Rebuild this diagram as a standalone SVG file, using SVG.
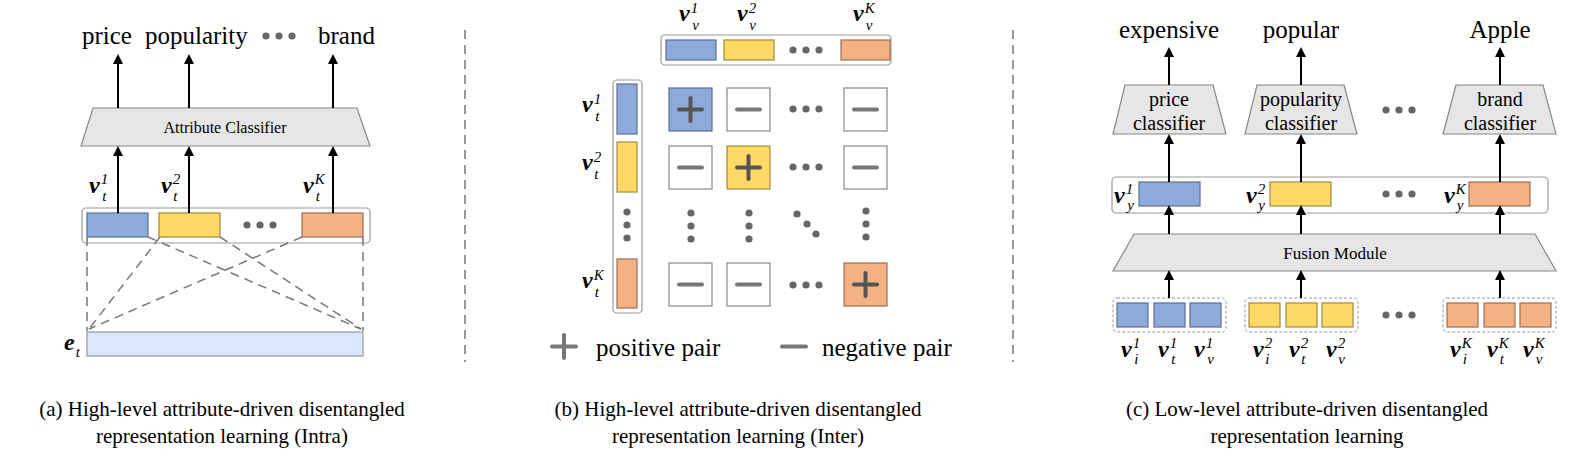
<svg xmlns="http://www.w3.org/2000/svg" width="1578" height="472" viewBox="0 0 1578 472" font-family="Liberation Serif, DejaVu Serif, serif">
<style>
text{font-family:"Liberation Serif","DejaVu Serif",serif;fill:#000}
.lab{font-size:25px}
.cap{font-size:21px;text-anchor:middle}
.m{font-size:24px;font-weight:bold;font-style:italic}
.s{font-size:15px;font-weight:normal;font-style:italic}
.b{fill:#8eaadb;stroke:#5a6f96;stroke-width:1.2}
.y{fill:#ffd966;stroke:#a08a3c;stroke-width:1.2}
.o{fill:#f4b183;stroke:#9c6e54;stroke-width:1.2}
.w{fill:#fff;stroke:#888;stroke-width:1.2}
.cont{fill:#fff;stroke:#999;stroke-width:1.2}
.trap{fill:#e6e6e6;stroke:#888;stroke-width:1.2}
.ar{stroke:#000;stroke-width:2;marker-end:url(#ah);fill:none}
.dash{stroke:#777;stroke-width:1.5;stroke-dasharray:9 6;fill:none}
.dot{fill:#666}
.pm{stroke:#555;stroke-width:4;stroke-linecap:round}
.pml{stroke:#777;stroke-width:4;stroke-linecap:round}
</style>
<defs>
<marker id="ah" markerWidth="10" markerHeight="10" refX="8" refY="5" orient="auto" markerUnits="userSpaceOnUse"><path d="M0,0 L10,5 L0,10 z" fill="#000"/></marker>
<g id="d3"><circle cx="-13" cy="0" r="3.6" class="dot"/><circle cx="0" cy="0" r="3.6" class="dot"/><circle cx="13" cy="0" r="3.6" class="dot"/></g>
<g id="v3"><circle cy="-13" cx="0" r="3.6" class="dot"/><circle cy="0" cx="0" r="3.6" class="dot"/><circle cy="13" cx="0" r="3.6" class="dot"/></g>
</defs>
<rect width="1578" height="472" fill="#fff"/>

<line x1="465" y1="30" x2="465" y2="362" class="dash"/>
<line x1="1013" y1="30" x2="1013" y2="362" class="dash"/>

<g id="a-labels">
<text class="lab" x="82" y="44">price</text>
<text class="lab" x="145" y="44">popularity</text>
<use href="#d3" x="279" y="36"/>
<text class="lab" x="318" y="44">brand</text>
</g>
<g id="a-classifier">
<polygon points="93,108 357,108 370,146 81,146" class="trap"/>
<text x="225" y="133" font-size="16" text-anchor="middle">Attribute Classifier</text>
</g>
<g id="a-vectors">
<rect x="82" y="208" width="288" height="35" rx="4" class="cont"/>
<rect x="87" y="213" width="61" height="24" class="b"/>
<rect x="159" y="213" width="61" height="24" class="y"/>
<use href="#d3" x="260" y="225"/>
<rect x="302" y="213" width="61" height="24" class="o"/>
<text class="m" x="89" y="193">v<tspan class="s" dx="1" dy="-9">1</tspan><tspan class="s" dx="-6" dy="17">t</tspan></text>
<text class="m" x="161" y="193">v<tspan class="s" dx="1" dy="-9">2</tspan><tspan class="s" dx="-7" dy="17">t</tspan></text>
<text class="m" x="303" y="193">v<tspan class="s" dx="1" dy="-9">K</tspan><tspan class="s" dx="-9" dy="17">t</tspan></text>
</g>
<g id="a-et">
<rect x="87" y="332" width="276" height="24" fill="#dae8fc" stroke="#999" stroke-width="1.2"/>
<text class="m" x="64" y="350">e<tspan class="s" dx="1" dy="7">t</tspan></text>
</g>
<g id="a-connectors">
<line x1="118" y1="108" x2="118" y2="56" class="ar"/>
<line x1="189" y1="108" x2="189" y2="56" class="ar"/>
<line x1="333" y1="108" x2="333" y2="56" class="ar"/>
<line x1="118" y1="213" x2="118" y2="148" class="ar"/>
<line x1="189" y1="213" x2="189" y2="148" class="ar"/>
<line x1="333" y1="213" x2="333" y2="148" class="ar"/>
<line x1="87" y1="237" x2="87" y2="331" class="dash"/>
<line x1="363" y1="237" x2="363" y2="331" class="dash"/>
<line x1="148" y1="237" x2="361" y2="329" class="dash"/>
<line x1="220" y1="237" x2="361" y2="329" class="dash"/>
<line x1="160" y1="237" x2="89" y2="329" class="dash"/>
<line x1="302" y1="237" x2="89" y2="329" class="dash"/>
</g>

<g id="b-top">
<rect x="661" y="35" width="230" height="30" rx="4" class="cont"/>
<rect x="666" y="40" width="50" height="20" class="b"/>
<rect x="724" y="40" width="50" height="20" class="y"/>
<use href="#d3" x="806" y="50"/>
<rect x="841" y="40" width="49" height="20" class="o"/>
<text class="m" x="679" y="21">v<tspan class="s" dx="1" dy="-8">1</tspan><tspan class="s" dx="-6" dy="17">v</tspan></text>
<text class="m" x="737" y="21">v<tspan class="s" dx="1" dy="-8">2</tspan><tspan class="s" dx="-7" dy="17">v</tspan></text>
<text class="m" x="853" y="21">v<tspan class="s" dx="1" dy="-8">K</tspan><tspan class="s" dx="-9" dy="17">v</tspan></text>
</g>
<g id="b-left">
<rect x="613" y="80" width="29" height="233" rx="4" class="cont"/>
<rect x="617" y="84" width="20" height="50" class="b"/>
<rect x="617" y="142" width="20" height="50" class="y"/>
<use href="#v3" x="627" y="225"/>
<rect x="617" y="259" width="20" height="49" class="o"/>
<text class="m" x="582" y="112">v<tspan class="s" dx="1" dy="-8">1</tspan><tspan class="s" dx="-6" dy="17">t</tspan></text>
<text class="m" x="582" y="170">v<tspan class="s" dx="1" dy="-8">2</tspan><tspan class="s" dx="-7" dy="17">t</tspan></text>
<text class="m" x="582" y="288">v<tspan class="s" dx="1" dy="-8">K</tspan><tspan class="s" dx="-9" dy="17">t</tspan></text>
</g>
<g id="b-grid">
<rect x="669" y="88" width="43" height="43" class="b"/>
<line x1="690.5" y1="98" x2="690.5" y2="121" class="pm"/><line x1="679" y1="109.5" x2="702" y2="109.5" class="pm"/>
<rect x="727" y="88" width="43" height="43" class="w"/><line x1="737" y1="109.5" x2="760" y2="109.5" class="pml"/>
<use href="#d3" x="806" y="109"/>
<rect x="844" y="88" width="43" height="43" class="w"/><line x1="854" y1="109.5" x2="877" y2="109.5" class="pml"/>
<rect x="669" y="146" width="43" height="43" class="w"/><line x1="679" y1="167.5" x2="702" y2="167.5" class="pml"/>
<rect x="727" y="146" width="43" height="43" class="y"/>
<line x1="748.5" y1="156" x2="748.5" y2="179" class="pm"/><line x1="737" y1="167.5" x2="760" y2="167.5" class="pm"/>
<use href="#d3" x="806" y="167"/>
<rect x="844" y="146" width="43" height="43" class="w"/><line x1="854" y1="167.5" x2="877" y2="167.5" class="pml"/>
<use href="#v3" x="691" y="226"/>
<use href="#v3" x="749" y="226"/>
<circle cx="797" cy="214" r="3.6" class="dot"/><circle cx="807" cy="224" r="3.6" class="dot"/><circle cx="816" cy="234" r="3.6" class="dot"/>
<use href="#v3" x="866" y="224"/>
<rect x="669" y="263" width="43" height="43" class="w"/><line x1="679" y1="284.5" x2="702" y2="284.5" class="pml"/>
<rect x="727" y="263" width="43" height="43" class="w"/><line x1="737" y1="284.5" x2="760" y2="284.5" class="pml"/>
<use href="#d3" x="806" y="285"/>
<rect x="844" y="263" width="43" height="43" class="o"/>
<line x1="865.5" y1="273" x2="865.5" y2="296" class="pm"/><line x1="854" y1="284.5" x2="877" y2="284.5" class="pm"/>
</g>
<g id="b-legend">
<line x1="564" y1="335" x2="564" y2="358" class="pml"/><line x1="552" y1="346.5" x2="576" y2="346.5" class="pml"/>
<text class="lab" x="596" y="356">positive pair</text>
<line x1="782" y1="346.5" x2="806" y2="346.5" class="pml"/>
<text class="lab" x="822" y="356">negative pair</text>
</g>

<g id="c-labels">
<text class="lab" x="1169" y="38" text-anchor="middle">expensive</text>
<text class="lab" x="1301" y="38" text-anchor="middle">popular</text>
<text class="lab" x="1500" y="38" text-anchor="middle">Apple</text>
</g>
<g id="c-price"><polygon points="1125,85 1213,85 1226,134 1113,134" class="trap"/>
<text x="1169" y="106" font-size="20" text-anchor="middle">price</text><text x="1169" y="130" font-size="20" text-anchor="middle">classifier</text></g>
<g id="c-pop"><polygon points="1257,85 1344,85 1357,134 1245,134" class="trap"/>
<text x="1301" y="106" font-size="20" text-anchor="middle">popularity</text><text x="1301" y="130" font-size="20" text-anchor="middle">classifier</text></g>
<use href="#d3" x="1399" y="110"/>
<g id="c-brand"><polygon points="1456,85 1543,85 1556,134 1443,134" class="trap"/>
<text x="1500" y="106" font-size="20" text-anchor="middle">brand</text><text x="1500" y="130" font-size="20" text-anchor="middle">classifier</text></g>
<g id="c-vy">
<rect x="1112" y="177" width="436" height="36" rx="4" class="cont"/>
<rect x="1139" y="182" width="61" height="24" class="b"/>
<rect x="1270" y="182" width="61" height="24" class="y"/>
<use href="#d3" x="1399" y="194"/>
<rect x="1469" y="182" width="61" height="24" class="o"/>
<text class="m" x="1114" y="203">v<tspan class="s" dx="1" dy="-9">1</tspan><tspan class="s" dx="-6" dy="16">y</tspan></text>
<text class="m" x="1246" y="203">v<tspan class="s" dx="1" dy="-9">2</tspan><tspan class="s" dx="-7" dy="16">y</tspan></text>
<text class="m" x="1444" y="203">v<tspan class="s" dx="1" dy="-9">K</tspan><tspan class="s" dx="-9" dy="16">y</tspan></text>
</g>
<g id="c-fusion"><polygon points="1134,234 1535,234 1556,271 1113,271" class="trap"/>
<text x="1335" y="259" font-size="17" text-anchor="middle">Fusion Module</text></g>
<g id="c-g1">
<rect x="1113" y="298" width="113" height="34" rx="4" fill="#fff" stroke="#999" stroke-dasharray="3 2"/>
<rect x="1117" y="303" width="31" height="24" class="b"/><rect x="1154" y="303" width="31" height="24" class="b"/><rect x="1190" y="303" width="31" height="24" class="b"/>
</g>
<g id="c-g2">
<rect x="1245" y="298" width="113" height="34" rx="4" fill="#fff" stroke="#999" stroke-dasharray="3 2"/>
<rect x="1249" y="303" width="31" height="24" class="y"/><rect x="1286" y="303" width="31" height="24" class="y"/><rect x="1322" y="303" width="31" height="24" class="y"/>
</g>
<use href="#d3" x="1399" y="315"/>
<g id="c-g3">
<rect x="1443" y="298" width="113" height="34" rx="4" fill="#fff" stroke="#999" stroke-dasharray="3 2"/>
<rect x="1447" y="303" width="31" height="24" class="o"/><rect x="1484" y="303" width="31" height="24" class="o"/><rect x="1520" y="303" width="31" height="24" class="o"/>
</g>
<g id="c-sublabels">
<text class="m" x="1121" y="357">v<tspan class="s" dx="1" dy="-9">1</tspan><tspan class="s" dx="-6" dy="16">i</tspan></text>
<text class="m" x="1158" y="357">v<tspan class="s" dx="1" dy="-9">1</tspan><tspan class="s" dx="-6" dy="16">t</tspan></text>
<text class="m" x="1194" y="357">v<tspan class="s" dx="1" dy="-9">1</tspan><tspan class="s" dx="-6" dy="16">v</tspan></text>
<text class="m" x="1253" y="357">v<tspan class="s" dx="1" dy="-9">2</tspan><tspan class="s" dx="-7" dy="16">i</tspan></text>
<text class="m" x="1289" y="357">v<tspan class="s" dx="1" dy="-9">2</tspan><tspan class="s" dx="-7" dy="16">t</tspan></text>
<text class="m" x="1326" y="357">v<tspan class="s" dx="1" dy="-9">2</tspan><tspan class="s" dx="-7" dy="16">v</tspan></text>
<text class="m" x="1450" y="357">v<tspan class="s" dx="1" dy="-9">K</tspan><tspan class="s" dx="-9" dy="16">i</tspan></text>
<text class="m" x="1487" y="357">v<tspan class="s" dx="1" dy="-9">K</tspan><tspan class="s" dx="-9" dy="16">t</tspan></text>
<text class="m" x="1523" y="357">v<tspan class="s" dx="1" dy="-9">K</tspan><tspan class="s" dx="-9" dy="16">v</tspan></text>
</g>
<g id="c-connectors">
<line x1="1169" y1="85" x2="1169" y2="49" class="ar"/>
<line x1="1301" y1="85" x2="1301" y2="49" class="ar"/>
<line x1="1500" y1="85" x2="1500" y2="49" class="ar"/>
<line x1="1169" y1="182" x2="1169" y2="136" class="ar"/>
<line x1="1301" y1="182" x2="1301" y2="136" class="ar"/>
<line x1="1500" y1="182" x2="1500" y2="136" class="ar"/>
<line x1="1169" y1="234" x2="1169" y2="207" class="ar"/>
<line x1="1301" y1="234" x2="1301" y2="207" class="ar"/>
<line x1="1500" y1="234" x2="1500" y2="207" class="ar"/>
<line x1="1169" y1="298" x2="1169" y2="272" class="ar"/>
<line x1="1301" y1="298" x2="1301" y2="272" class="ar"/>
<line x1="1500" y1="298" x2="1500" y2="272" class="ar"/>
</g>

<g id="captions">
<text class="cap" x="222" y="416">(a) High-level attribute-driven disentangled</text>
<text class="cap" x="222" y="443">representation learning (Intra)</text>
<text class="cap" x="738" y="416">(b) High-level attribute-driven disentangled</text>
<text class="cap" x="738" y="443">representation learning (Inter)</text>
<text class="cap" x="1307" y="416">(c) Low-level attribute-driven disentangled</text>
<text class="cap" x="1307" y="443">representation learning</text>
</g>
</svg>
